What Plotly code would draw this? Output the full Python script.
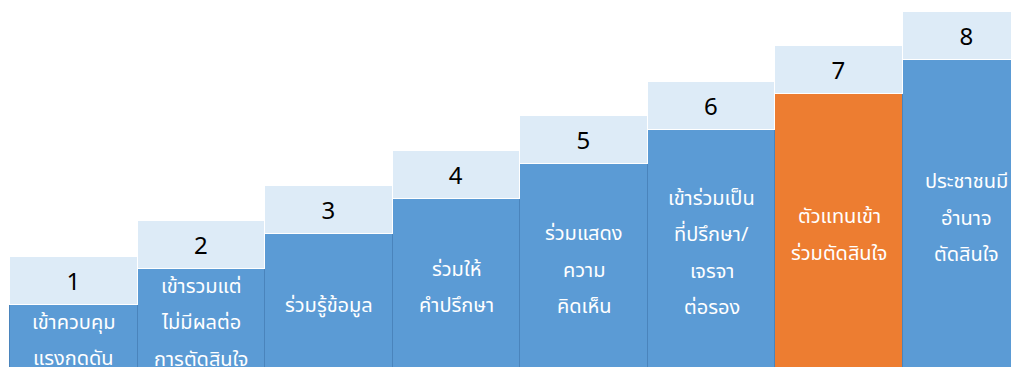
import plotly.graph_objects as go

# --- data -------------------------------------------------------------------
levels = ["1", "2", "3", "4", "5", "6", "7", "8"]
body_height = [72, 108, 143, 178, 213, 247, 283, 317]
cap_height = [48, 48, 48, 48, 48, 48, 48, 48]
labels = [
    ["เข้าควบคุม", "แรงกดดัน"],
    ["เข้ารวมแต่", "ไม่มีผลต่อ", "การตัดสินใจ"],
    ["ร่วมรู้ข้อมูล"],
    ["ร่วมให้", "คำปรึกษา"],
    ["ร่วมแสดง", "ความ", "คิดเห็น"],
    ["เข้าร่วมเป็น", "ที่ปรึกษา/", "เจรจา", "ต่อรอง"],
    ["ตัวแทนเข้า", "ร่วมตัดสินใจ"],
    ["ประชาชนมี", "อำนาจ", "ตัดสินใจ"],
]
highlight = 6  # level 7

BLUE = "#5B9BD5"
ORANGE = "#ED7D31"
CAP = "#DDEBF7"
FONT = "Noto Sans Thai, Tahoma, Noto Sans, sans-serif"

x = list(range(len(levels)))
body_colors = [ORANGE if i == highlight else BLUE for i in x]

fig = go.Figure()
fig.add_trace(go.Bar(
    x=x, y=body_height, width=1,
    marker=dict(color=body_colors, line=dict(color="#4A84BC", width=1)),
    hoverinfo="skip",
))
fig.add_trace(go.Bar(
    x=x, y=cap_height, width=1,
    marker=dict(color=CAP, line=dict(color="white", width=1.5)),
    text=levels, textposition="inside", insidetextanchor="middle",
    textangle=0, textfont=dict(size=24, color="black", family="Noto Sans, sans-serif"),
    hoverinfo="skip",
))

# body text, one annotation per line (wide line spacing)
line_gap = 36.5
for i, lines in enumerate(labels):
    mid = body_height[i] / 2
    n = len(lines)
    for k, t in enumerate(lines):
        fig.add_annotation(
            x=i, y=mid + ((n - 1) / 2 - k) * line_gap,
            text=t, showarrow=False,
            font=dict(size=20, color="white", family=FONT),
            xanchor="center", yanchor="middle",
        )

# page body keeps an 8px margin, so the figure is 8px smaller each way
fig.update_layout(
    width=1011, height=359,
    margin=dict(l=0, r=0, t=0, b=0),
    barmode="stack", bargap=0,
    showlegend=False,
    paper_bgcolor="white", plot_bgcolor="white",
    xaxis=dict(range=[-0.5157, 7.409], visible=False, fixedrange=True),
    yaxis=dict(range=[10, 369], visible=False, fixedrange=True),
)

fig.write_html("out.html")
